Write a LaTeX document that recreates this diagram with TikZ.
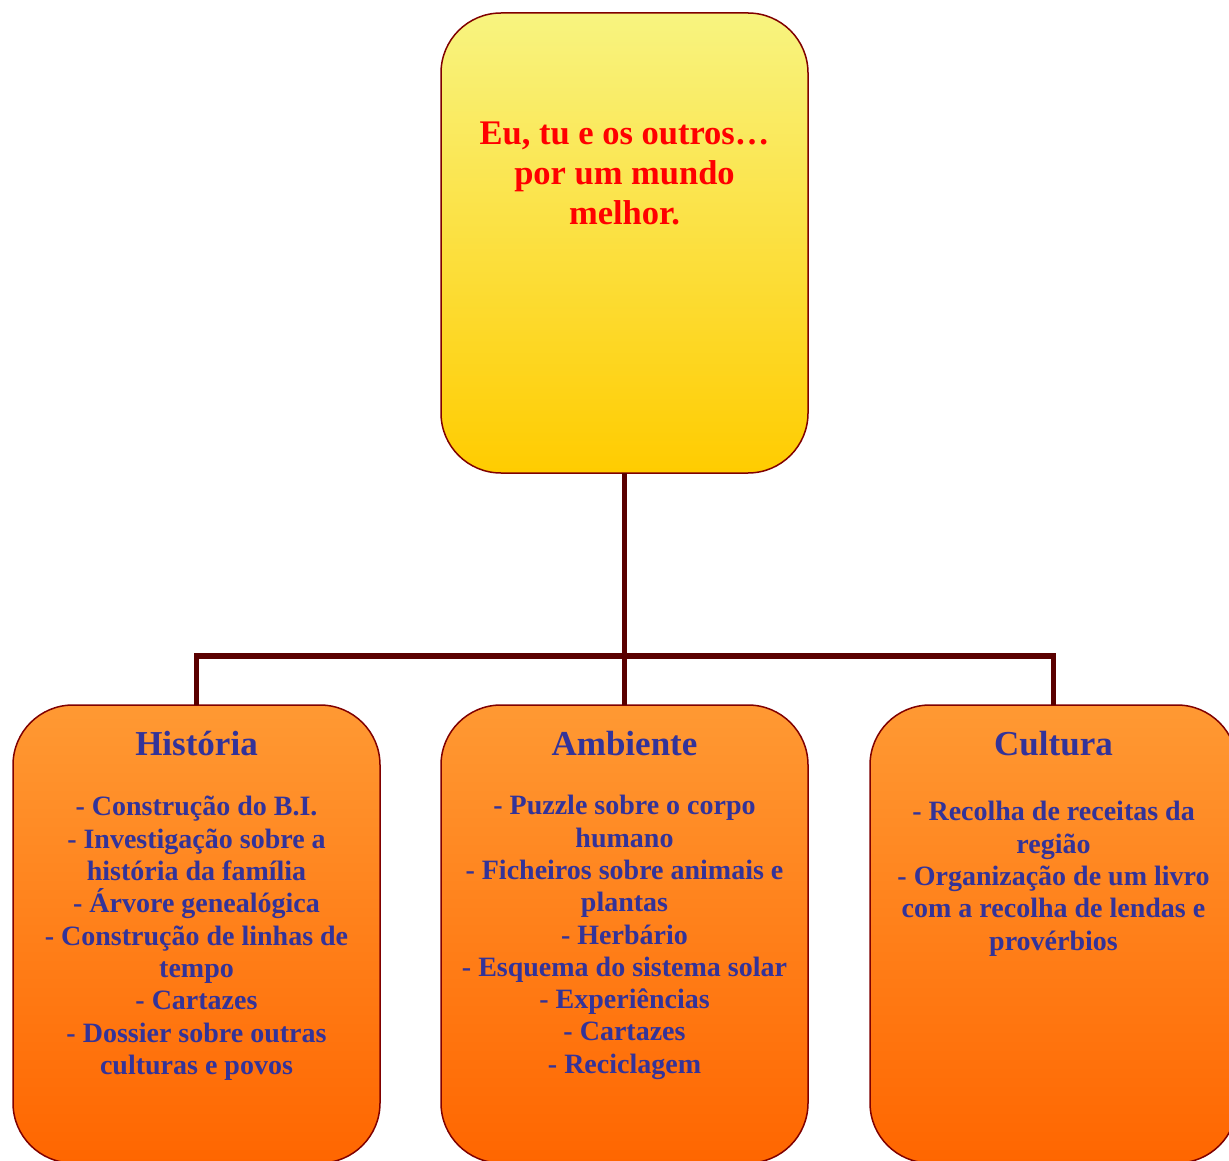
\documentclass[tikz,border=0pt]{standalone}
\usepackage{fontspec}
\setmainfont{Liberation Serif}
\definecolor{titlered}{RGB}{255,0,0}
\definecolor{itemblue}{RGB}{51,51,153}
\definecolor{boxborder}{RGB}{128,0,0}
\definecolor{linkcol}{RGB}{90,0,0}
\definecolor{yeltop}{RGB}{248,244,128}
\definecolor{yelbot}{RGB}{255,204,0}
\definecolor{ortop}{RGB}{255,153,51}
\definecolor{orbot}{RGB}{255,102,0}
\tikzset{
  box/.style={draw=boxborder, line width=0.75pt, rounded corners=30pt,
    minimum width=183.5pt, inner sep=0pt, outer sep=0pt},
  topbox/.style={box, minimum height=230pt, top color=yeltop, bottom color=yelbot},
  subbox/.style={box, minimum height=229pt, top color=ortop, bottom color=orbot},
  titletext/.style={text=titlered, font=\fontsize{17.25}{20}\selectfont\bfseries,
    align=center, anchor=north, inner sep=0pt},
  headtext/.style={text=itemblue, font=\fontsize{17.5}{20}\selectfont\bfseries,
    anchor=base, inner sep=0pt},
  itemtext/.style={text=itemblue, font=\fontsize{14}{16.15}\selectfont\bfseries,
    align=center, anchor=north, inner sep=0pt},
  link/.style={draw=linkcol, line width=2.75pt, line join=miter}
}
\begin{document}
\begin{tikzpicture}[x=0.5pt,y=-0.5pt]
\useasboundingbox (0,0) rectangle (1229,1160);
\clip (0,0) rectangle (1229,1160);
% boxes
\node[topbox] (top) at (624.5,243) {};
\node[subbox] (hist) at (196.5,934) {};
\node[subbox] (amb) at (624.5,934) {};
\node[subbox] (cult) at (1053.5,934) {};
% connectors
\coordinate (bus) at (624.5,656);
\draw[link] (top.south) -- (amb.north);
\draw[link] (hist.north) |- (bus) -| (cult.north);
% texts
\node[titletext] (ttl) at (624.5,122) {Eu, tu e os outros…\\por um mundo\\melhor.};
\node[headtext] (h1) at (196.5,755) {História};
\node[headtext] (h2) at (624.5,755) {Ambiente};
\node[headtext] (h3) at (1053.5,755) {Cultura};
\node[itemtext] (i1) at (196.5,796) {- Construção do B.I.\\- Investigação sobre a\\história da família\\- Árvore genealógica\\- Construção de linhas de\\tempo\\- Cartazes\\- Dossier sobre outras\\culturas e povos};
\node[itemtext] (i2) at (624.5,795) {- Puzzle sobre o corpo\\humano\\- Ficheiros sobre animais e\\plantas\\- Herbário\\- Esquema do sistema solar\\- Experiências\\- Cartazes\\- Reciclagem};
\node[itemtext] (i3) at (1053.5,801) {- Recolha de receitas da\\região\\- Organização de um livro\\com a recolha de lendas e\\provérbios};
\end{tikzpicture}
\end{document}
